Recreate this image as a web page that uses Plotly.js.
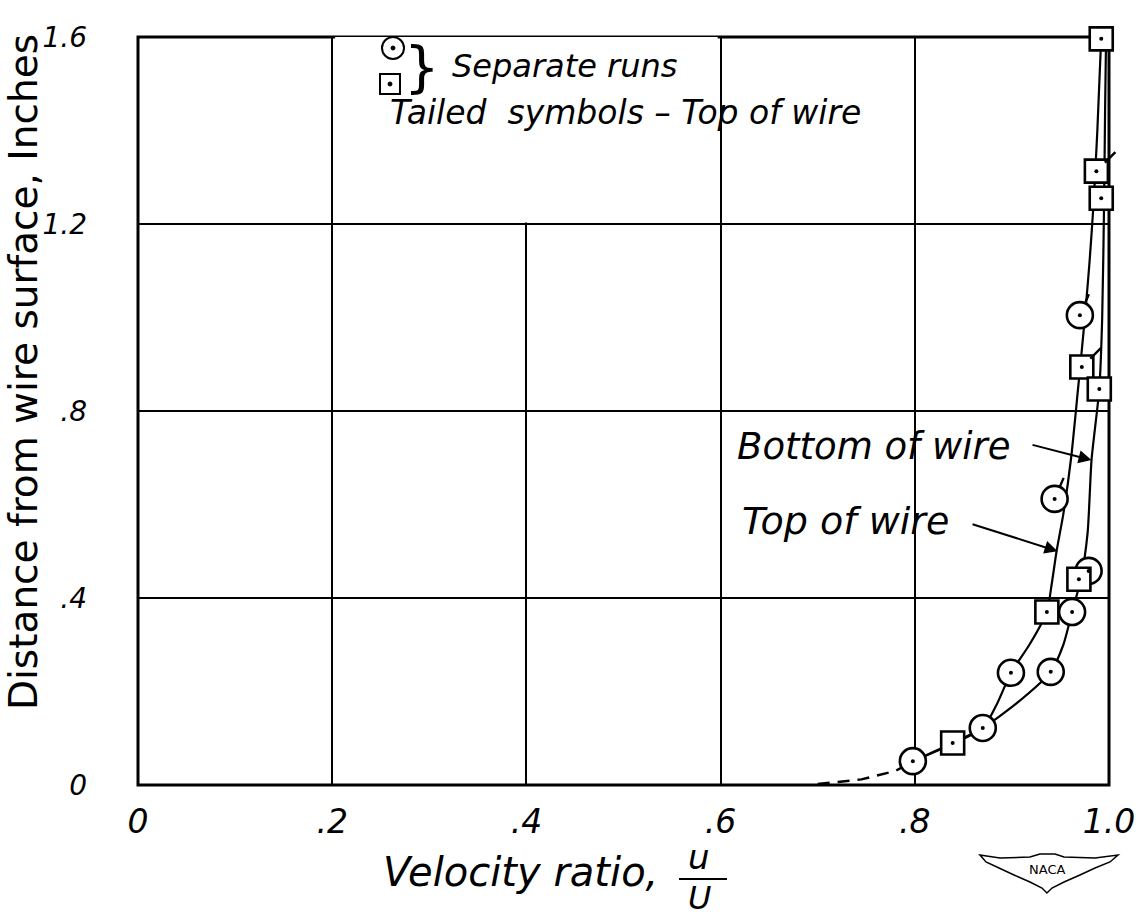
<!DOCTYPE html>
<html>
<head>
<meta charset="utf-8">
<script src="https://cdn.plot.ly/plotly-3.0.1.min.js"></script>
<style>html,body{margin:0;padding:0;background:#fff;}#chart{width:1142px;height:916px;}</style>
</head>
<body>
<div id="chart"></div>
<script>
// ---- data ----
const xTickVals = [0, 0.2, 0.4, 0.6, 0.8, 1.0];
const xTickText = ['0', '.2', '.4', '.6', '.8', '1.0'];
const yTickVals = [0, 0.4, 0.8, 1.2, 1.6];
const yTickText = ['0', '.4', '.8', '1.2', '1.6'];

// circle symbols (run 1)
const circleX = [0.798, 0.870, 0.899, 0.940, 0.962, 0.979, 0.944, 0.970];
const circleY = [0.051, 0.122, 0.240, 0.242, 0.370, 0.458, 0.612, 1.005];
const circleTailed = [false, false, false, false, false, false, true, true];

// square symbols (run 2)
const squareX = [0.839, 0.936, 0.969, 0.972, 0.990, 0.987, 0.992, 0.992];
const squareY = [0.090, 0.370, 0.440, 0.894, 0.847, 1.313, 1.255, 1.596];
const squareTailed = [false, false, false, true, false, true, false, false];

// faired curves
const extrapX = [0.700, 0.745, 0.780, 0.798];
const extrapY = [0.002, 0.012, 0.030, 0.051];
const bottomX = [0.798, 0.839, 0.870, 0.905, 0.940, 0.953, 0.962, 0.971, 0.978, 0.982, 0.990, 0.993, 0.995, 0.996, 0.997];
const bottomY = [0.051, 0.090, 0.122, 0.175, 0.242, 0.300, 0.370, 0.440, 0.540, 0.695, 0.847, 1.000, 1.255, 1.450, 1.600];
const topX = [0.798, 0.870, 0.885, 0.899, 0.918, 0.936, 0.941, 0.946, 0.953, 0.961, 0.968, 0.972, 0.976, 0.980, 0.984, 0.988, 0.992];
const topY = [0.051, 0.122, 0.175, 0.240, 0.300, 0.370, 0.430, 0.500, 0.580, 0.700, 0.845, 0.930, 1.020, 1.120, 1.240, 1.400, 1.600];

// ---- layout helpers (pixel -> paper) ----
const L = 138, R = 1109, T = 37, B = 785;
const W = 1142, H = 916;
const px = v => (v - L) / (R - L);
const py = v => (B - v) / (B - T);

const FONT = 'DejaVu Sans';
const ink = '#000';

const traces = [
  {x: extrapX, y: extrapY, mode: 'lines', line: {color: ink, width: 2.5, dash: '12px,8px'}, hoverinfo: 'skip'},
  {x: bottomX, y: bottomY, mode: 'lines', line: {color: ink, width: 2.2, shape: 'spline', smoothing: 0.6}, hoverinfo: 'skip'},
  {x: topX, y: topY, mode: 'lines', line: {color: ink, width: 2.2, shape: 'spline', smoothing: 0.6}, hoverinfo: 'skip'},
  {x: circleX, y: circleY, mode: 'markers', cliponaxis: false,
   marker: {symbol: 'circle', size: 26, color: '#fff', line: {color: ink, width: 2.6}}},
  {x: squareX, y: squareY, mode: 'markers', cliponaxis: false,
   marker: {symbol: 'square', size: 23, color: '#fff', line: {color: ink, width: 2.6}}},
  {x: circleX.concat(squareX), y: circleY.concat(squareY), mode: 'markers', cliponaxis: false,
   marker: {symbol: 'circle', size: 4, color: ink}}
];

const annotations = [];
// tails on symbols (top of wire)
circleX.forEach((x, i) => {
  if (circleTailed[i]) annotations.push({x: x, y: circleY[i], xref: 'x', yref: 'y', text: ' ', showarrow: true,
    arrowhead: 0, arrowwidth: 2.4, arrowcolor: ink, ax: 12, ay: -28, standoff: 12});
});
squareX.forEach((x, i) => {
  if (squareTailed[i]) annotations.push({x: x, y: squareY[i], xref: 'x', yref: 'y', text: ' ', showarrow: true,
    arrowhead: 0, arrowwidth: 2.4, arrowcolor: ink, ax: 22, ay: -22, standoff: 12});
});

const txt = (text, x, y, size, anchor, extra) => Object.assign({
  text: text, x: x, y: y, xref: 'paper', yref: 'paper', showarrow: false,
  xanchor: anchor || 'center', yanchor: 'middle',
  font: {family: FONT, size: size, color: ink, style: 'italic'}
}, extra || {});

annotations.push(
  txt('Distance from wire surface, Inches', px(23), py(372), 39, 'center', {textangle: -90, font: {family: FONT, size: 39, color: ink}}),
  txt('Velocity ratio,', px(520), py(872), 40),
  txt('u', px(699), py(857), 34),
  txt('U', px(699), py(898), 32),
  txt('}', px(422), py(66), 56, 'center', {font: {family: FONT, size: 56, color: ink}}),
  txt('Separate runs', px(450), py(66), 32, 'left'),
  txt('Tailed  symbols – Top of wire', px(388), py(113), 33, 'left'),
  txt('Bottom of wire', px(735), py(446), 37, 'left'),
  txt('Top of wire', px(740), py(521), 38, 'left'),
  txt('NACA', px(1047), py(869), 13, 'center', {font: {family: FONT, size: 13, color: ink}})
);
// label arrows
annotations.push(
  {x: 0.982, y: 0.695, xref: 'x', yref: 'y', text: ' ', showarrow: true, arrowhead: 2, arrowsize: 1.3,
   arrowwidth: 2, arrowcolor: ink, ax: -62, ay: -16},
  {x: 0.947, y: 0.500, xref: 'x', yref: 'y', text: ' ', showarrow: true, arrowhead: 2, arrowsize: 1.3,
   arrowwidth: 2, arrowcolor: ink, ax: -88, ay: -28}
);

// NACA wings outline
const wing = [[980,855],[1000,858],[1030,857],[1040,854],[1055,854],[1064,857],[1095,858],[1118,855],[1110,862],[1095,868],[1080,875],[1064,882],[1052,888],[1047,893],[1042,888],[1030,882],[1014,875],[999,868],[986,862]];
const wingPath = 'M ' + wing.map(p => px(p[0]).toFixed(4) + ',' + py(p[1]).toFixed(4)).join(' L ') + ' Z';

const shapes = [
  // blank legend cell (grid line at .4 is not drawn there)
  {type: 'rect', xref: 'x', yref: 'y', x0: 0.203, x1: 0.597, y0: 1.203, y1: 1.6, fillcolor: '#fff', line: {width: 0}, layer: 'between'},
  // frame
  {type: 'rect', xref: 'paper', yref: 'paper', x0: 0, x1: 1, y0: 0, y1: 1, line: {color: ink, width: 3}, layer: 'between'},
  // legend symbols
  {type: 'circle', xref: 'paper', yref: 'paper', xsizemode: 'pixel', ysizemode: 'pixel',
   xanchor: px(393), yanchor: py(48), x0: -11, x1: 11, y0: -11, y1: 11, line: {color: ink, width: 2}, fillcolor: '#fff'},
  {type: 'circle', xref: 'paper', yref: 'paper', xsizemode: 'pixel', ysizemode: 'pixel',
   xanchor: px(393), yanchor: py(48), x0: -2, x1: 2, y0: -2, y1: 2, line: {color: ink, width: 1}, fillcolor: ink},
  {type: 'rect', xref: 'paper', yref: 'paper', xsizemode: 'pixel', ysizemode: 'pixel',
   xanchor: px(390), yanchor: py(84), x0: -10, x1: 10, y0: -10, y1: 10, line: {color: ink, width: 2}, fillcolor: '#fff'},
  {type: 'circle', xref: 'paper', yref: 'paper', xsizemode: 'pixel', ysizemode: 'pixel',
   xanchor: px(390), yanchor: py(84), x0: -2, x1: 2, y0: -2, y1: 2, line: {color: ink, width: 1}, fillcolor: ink},
  // fraction bar
  {type: 'line', xref: 'paper', yref: 'paper', x0: px(679), x1: px(727), y0: py(879), y1: py(879), line: {color: ink, width: 2}},
  // NACA wings
  {type: 'path', xref: 'paper', yref: 'paper', path: wingPath, line: {color: ink, width: 1.5}, fillcolor: '#fff'}
];

const axisCommon = {
  showgrid: true, gridcolor: ink, gridwidth: 2, zeroline: false, showline: false,
  ticks: '', fixedrange: true,
  tickfont: {family: FONT, size: 33, color: ink, style: 'italic'}
};

const layout = {
  width: W, height: H,
  margin: {l: L, r: W - R, t: T, b: H - B},
  paper_bgcolor: '#fff', plot_bgcolor: '#fff',
  showlegend: false,
  xaxis: Object.assign({}, axisCommon, {range: [0, 1], tickmode: 'array', tickvals: xTickVals, ticktext: xTickText, ticklabelstandoff: 14}),
  yaxis: Object.assign({}, axisCommon, {range: [0, 1.6], tickmode: 'array', tickvals: yTickVals, ticktext: yTickText, ticklabelstandoff: 50,
    tickfont: {family: FONT, size: 28, color: ink, style: 'italic'}}),
  annotations: annotations,
  shapes: shapes
};

Plotly.newPlot('chart', traces, layout, {displayModeBar: false, staticPlot: true});
</script>
</body>
</html>
